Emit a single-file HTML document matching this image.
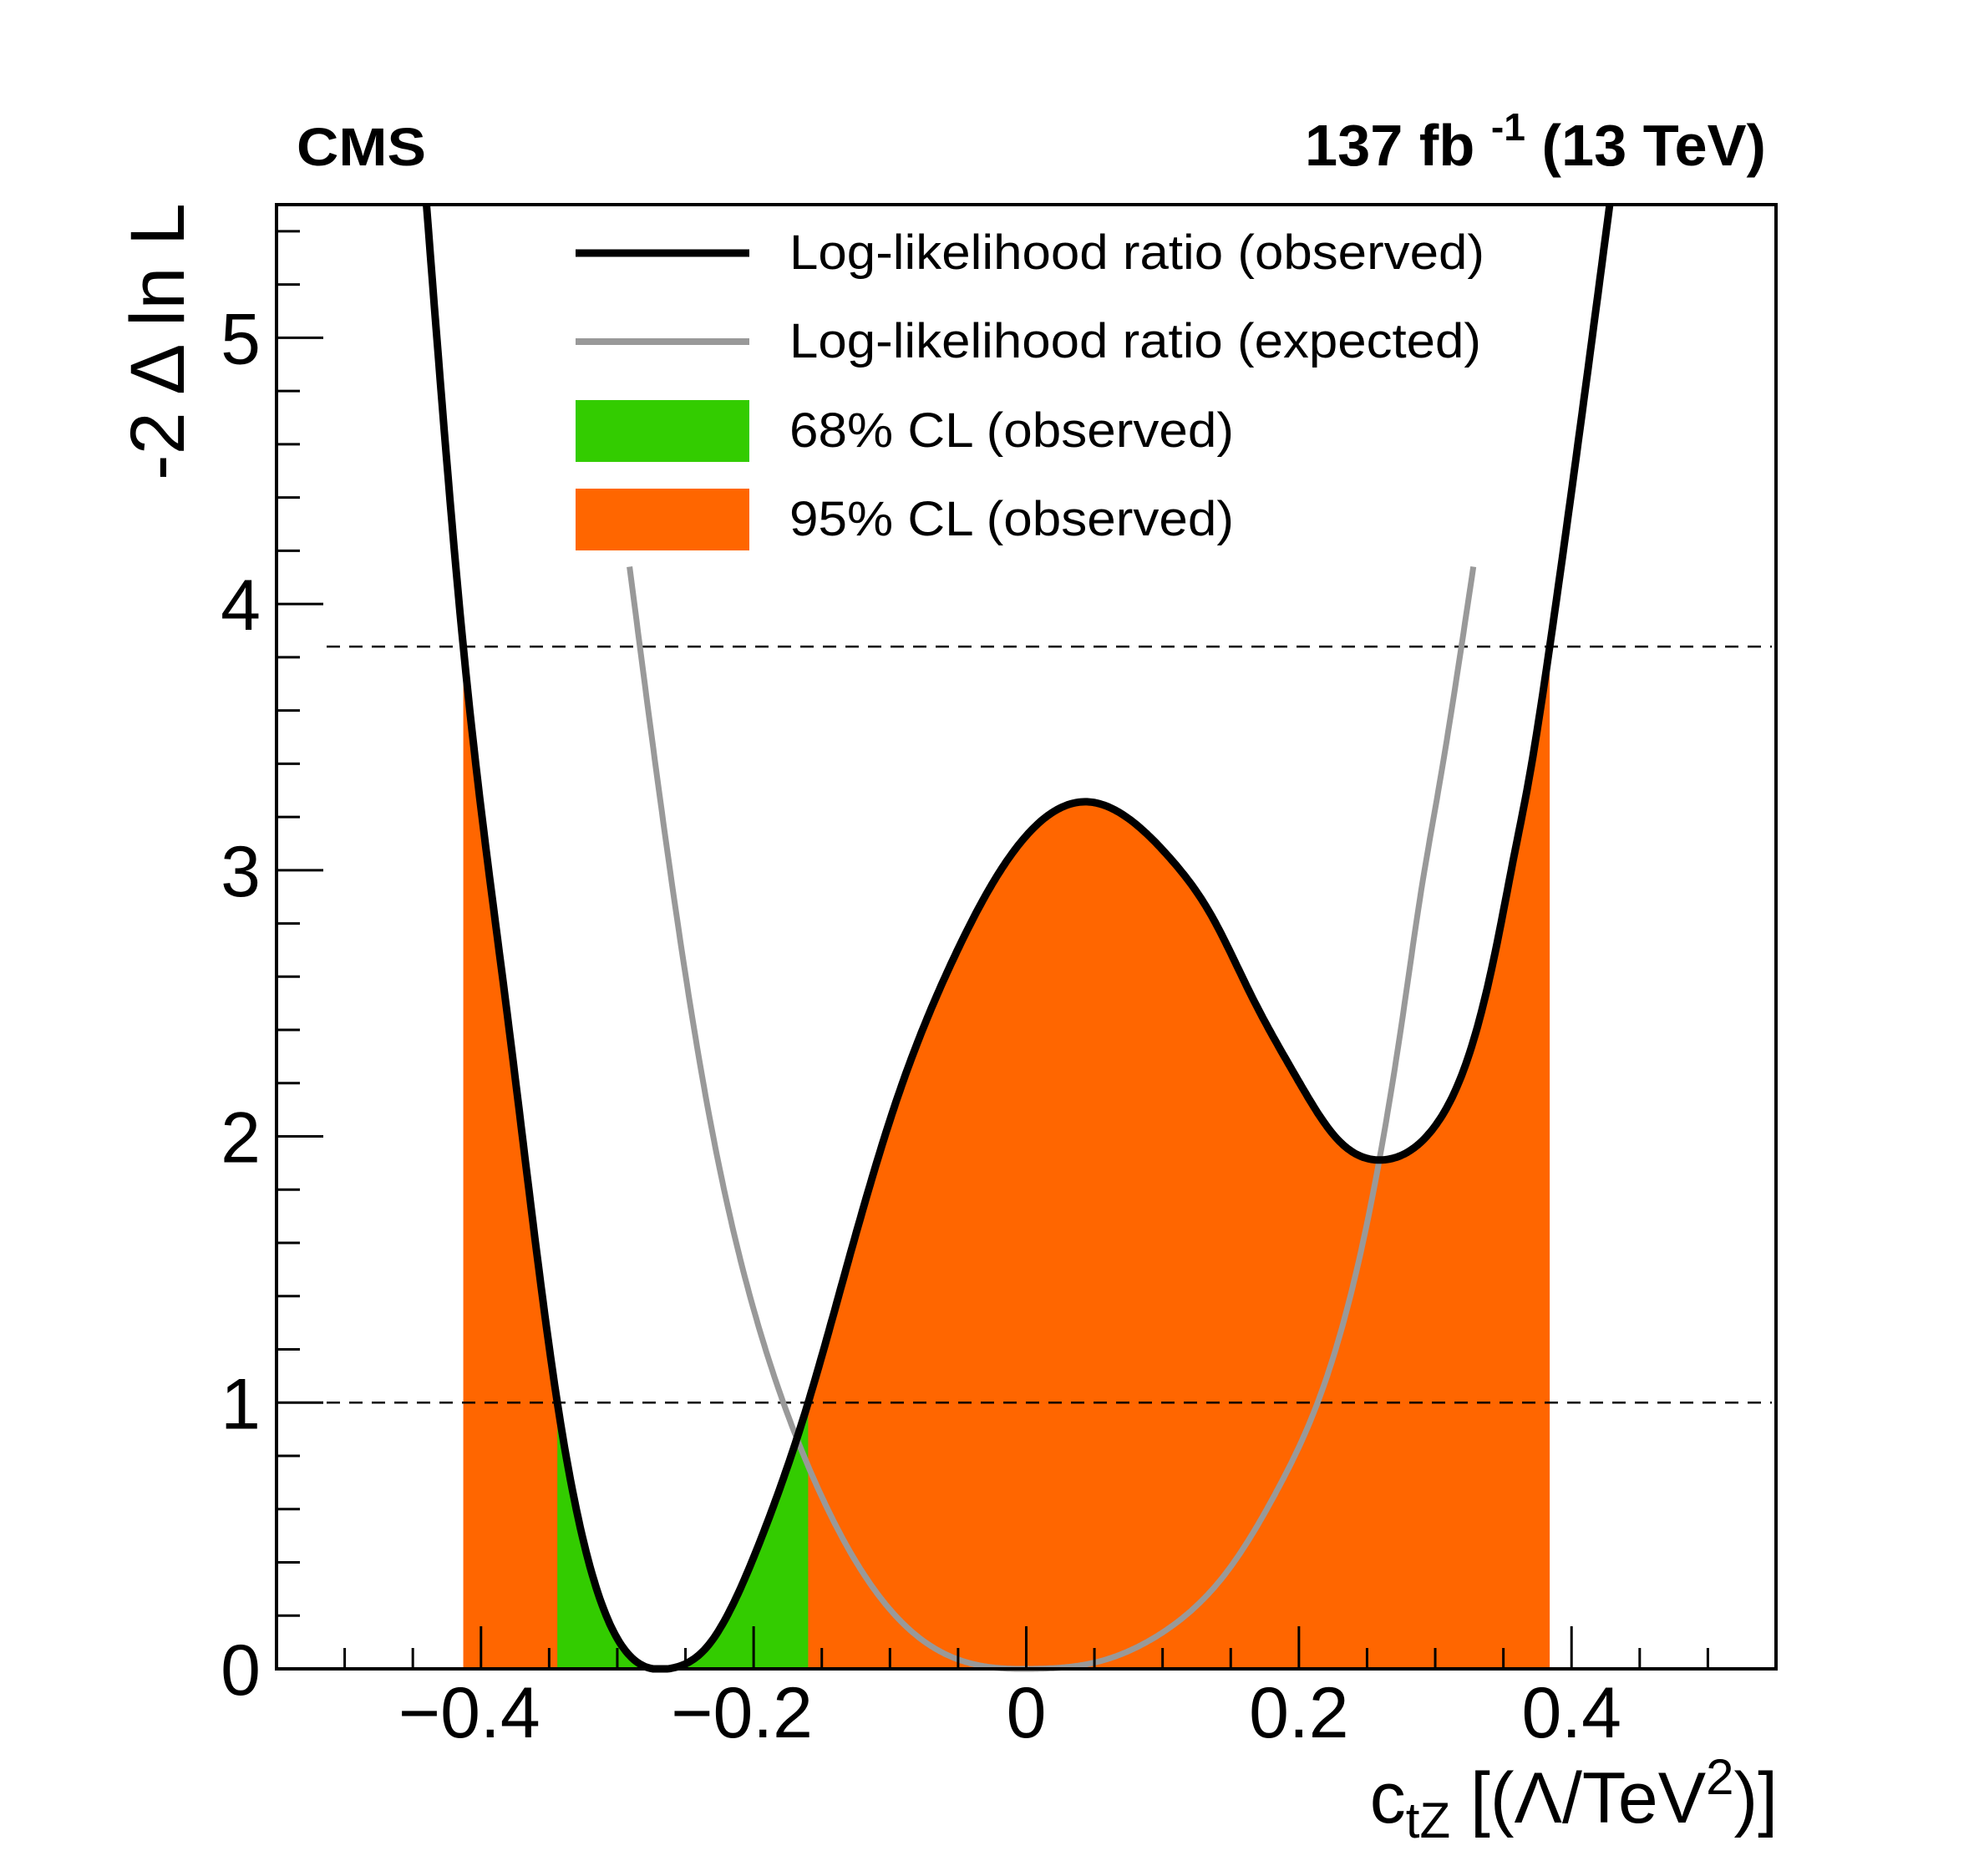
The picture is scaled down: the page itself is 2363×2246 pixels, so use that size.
<!DOCTYPE html>
<html><head><meta charset="utf-8"><style>
html,body{margin:0;padding:0;background:#fff;}
svg{display:block;font-family:"Liberation Sans",Arial,sans-serif;}
</style></head><body>
<svg id="chart" width="2363" height="2246" viewBox="0 0 2363 2246" xmlns="http://www.w3.org/2000/svg">
<rect width="2363" height="2246" fill="#fff"/>
<g id="fills"></g>
<g id="lines"></g>
<g id="axes"></g>
<text x="355" y="198" font-size="64" font-weight="bold" textLength="155" lengthAdjust="spacingAndGlyphs">CMS</text>
<text x="1562" y="198" font-size="70" font-weight="bold" textLength="552" lengthAdjust="spacingAndGlyphs">137 fb <tspan dy="-30" font-size="46">-1</tspan><tspan dy="30"> (13 TeV)</tspan></text>
<text transform="translate(220,575) rotate(-90)" font-size="92" textLength="332" lengthAdjust="spacingAndGlyphs">-2 Δ ln L</text>
<text x="2128" y="2182" text-anchor="end" font-size="86">c<tspan font-size="60" dy="18">tZ</tspan><tspan dy="-18"> [(Λ/TeV</tspan><tspan font-size="60" dy="-34">2</tspan><tspan dy="34">)]</tspan></text>
<g font-size="58">
<line x1="689" y1="303" x2="897" y2="303" stroke="#000" stroke-width="9"/>
<text x="945" y="322" textLength="832" lengthAdjust="spacingAndGlyphs">Log-likelihood ratio (observed)</text>
<line x1="689" y1="409" x2="897" y2="409" stroke="#999" stroke-width="8"/>
<text x="945" y="428" textLength="828" lengthAdjust="spacingAndGlyphs">Log-likelihood ratio (expected)</text>
<rect x="689" y="479" width="208" height="74" fill="#33cc00"/>
<text x="945" y="535" textLength="532" lengthAdjust="spacingAndGlyphs">68% CL (observed)</text>
<rect x="689" y="585" width="208" height="74" fill="#ff6600"/>
<text x="945" y="641" textLength="532" lengthAdjust="spacingAndGlyphs">95% CL (observed)</text>
</g>
</svg>
<script>
const obsX=[-0.440,-0.413,-0.381,-0.344,-0.317,-0.289,-0.263,-0.233,-0.196,-0.160,-0.126,-0.095,-0.054,-0.018,0.013,0.043,0.075,0.105,0.136,0.166,0.197,0.228,0.264,0.299,0.326,0.344,0.358,0.368,0.384,0.428];
const obsY=[5.5,3.84,2.47,1.0,0.33,0.04,0.0,0.09,0.47,1.0,1.615,2.138,2.661,3.006,3.194,3.257,3.194,3.048,2.828,2.52,2.232,1.991,1.913,2.033,2.326,2.692,3.058,3.32,3.84,5.5];
const expX=[-0.291,-0.270,-0.233,-0.196,-0.159,-0.121,-0.084,-0.047,0.004,0.055,0.101,0.148,0.185,0.222,0.253,0.277,0.289,0.303,0.328];
const expY=[4.14,3.32,2.09,1.28,0.75,0.37,0.14,0.03,0.0,0.03,0.14,0.37,0.68,1.12,1.75,2.48,2.90,3.32,4.14];
const cl68=[-0.344,-0.160];
const cl95=[-0.413,0.384];
const thresholds=[1.0,3.84];
const xTicks=[-0.4,-0.2,0,0.2,0.4];
const xTickLabels=["\u22120.4","\u22120.2","0","0.2","0.4"];
const yTicks=[0,1,2,3,4,5];
const yTickLabels=["0","1","2","3","4","5"];

const L=331,R=2126,T=245,B=1998,XMIN=-0.55,XMAX=0.55,YMIN=0,YMAX=5.5;
const sx=v=>L+(v-XMIN)/(XMAX-XMIN)*(R-L);
const sy=v=>B-(v-YMIN)/(YMAX-YMIN)*(B-T);
const NS="http://www.w3.org/2000/svg";
function mk(tag,attrs,parent){const e=document.createElementNS(NS,tag);for(const k in attrs)e.setAttribute(k,attrs[k]);parent.appendChild(e);return e;}
function spline(xs,ys){
  const n=xs.length,h=[],a=[],l=[1],mu=[0],z=[0],c=new Array(n).fill(0),b=[],d=[];
  for(let i=0;i<n-1;i++)h.push(xs[i+1]-xs[i]);
  for(let i=1;i<n-1;i++)a[i]=3/h[i]*(ys[i+1]-ys[i])-3/h[i-1]*(ys[i]-ys[i-1]);
  for(let i=1;i<n-1;i++){l[i]=2*(xs[i+1]-xs[i-1])-h[i-1]*mu[i-1];mu[i]=h[i]/l[i];z[i]=(a[i]-h[i-1]*z[i-1])/l[i];}
  for(let j=n-2;j>=1;j--){c[j]=z[j]-mu[j]*c[j+1];}
  for(let j=0;j<n-1;j++){b[j]=(ys[j+1]-ys[j])/h[j]-h[j]*(c[j+1]+2*c[j])/3;d[j]=(c[j+1]-c[j])/(3*h[j]);}
  return x=>{let i=0;while(i<n-2&&x>xs[i+1])i++;const dx=x-xs[i];return ys[i]+b[i]*dx+c[i]*dx*dx+d[i]*dx*dx*dx;};
}
const fObs=spline(obsX,obsY),fExp=spline(expX,expY);
function curvePts(f,a,b,n){const p=[];for(let k=0;k<=n;k++){const x=a+(b-a)*k/n;p.push([sx(x),sy(Math.max(0,f(x)))]);}return p;}
const fills=document.getElementById('fills'),lines=document.getElementById('lines'),axes=document.getElementById('axes');
function band(a,b,color,name){
  const p=curvePts(fObs,a,b,300);
  let d='M'+sx(a)+','+sy(0)+' '+p.map(q=>'L'+q[0].toFixed(1)+','+q[1].toFixed(1)).join(' ')+' L'+sx(b)+','+sy(0)+'Z';
  const e=mk('path',{d:d,fill:color},fills);
  
  
}
band(cl95[0],cl95[1],'#ff6600','band-95');
band(cl68[0],cl68[1],'#33cc00','band-68');
thresholds.forEach((t,i)=>{
  const e=mk('line',{x1:391,x2:2121,y1:sy(t),y2:sy(t),stroke:'#000','stroke-width':2.5,'stroke-dasharray':'16,11'},lines);
  
  
});
function curve(f,xs,color,w,name){
  const p=curvePts(f,xs[0],xs[xs.length-1],600);
  const e=mk('path',{d:'M'+p.map(q=>q[0].toFixed(1)+','+q[1].toFixed(1)).join(' L'),fill:'none',stroke:color,'stroke-width':w,'stroke-linejoin':'round'},lines);
  
  
}
curve(fExp,expX,'#999',7,'expected-curve');
curve(fObs,obsX,'#000',9,'observed-curve');
const fr=mk('rect',{x:L,y:T,width:R-L,height:B-T,fill:'none',stroke:'#000','stroke-width':4},axes);


for(let k=0;k<=27;k++){const v=k*0.2;const major=Math.abs(v-Math.round(v))<1e-6;
  const e=mk('line',{x1:L,x2:L+(major?56:28),y1:sy(v),y2:sy(v),stroke:'#000','stroke-width':3},axes);
  
  }
yTicks.forEach((v,i)=>{const e=mk('text',{x:312,y:sy(v)+31,'text-anchor':'end','font-size':86},axes);e.textContent=yTickLabels[i];
  
  });
for(let k=-11;k<=11;k++){const v=k*0.05;const major=k%4===0;
  const e=mk('line',{x1:sx(v),x2:sx(v),y1:B,y2:B-(major?51:25),stroke:'#000','stroke-width':3},axes);
  
  }
xTicks.forEach((v,i)=>{const e=mk('text',{x:sx(v)+(v<0?-14:0),y:2080,'text-anchor':'middle','font-size':86},axes);e.textContent=xTickLabels[i];
  
  });
</script>
</body></html>
